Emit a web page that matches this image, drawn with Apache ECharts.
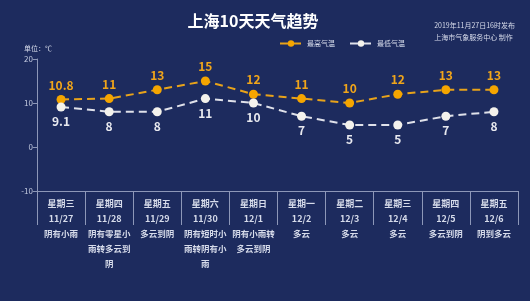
<!DOCTYPE html>
<html><head><meta charset="utf-8">
<script src="https://cdn.jsdelivr.net/npm/echarts@6/dist/echarts.min.js"></script>
<style>html,body{margin:0;padding:0;background:#1d2b5e;}#c{width:530px;height:301px;}</style>
</head><body><div id="c"></div>
<script>
var weekdays = ['星期三','星期四','星期五','星期六','星期日','星期一','星期二','星期三','星期四','星期五'];
var dates = ['11/27','11/28','11/29','11/30','12/1','12/2','12/3','12/4','12/5','12/6'];
var weather = ['阴有小雨','阴有零星小\n雨转多云到\n阴','多云到阴','阴有短时小\n雨转阴有小\n雨','阴有小雨转\n多云到阴','多云','多云','多云','多云到阴','阴到多云'];
var highTemps = [10.8, 11, 13, 15, 12, 11, 10, 12, 13, 13];
var lowTemps = [9.1, 8, 8, 11, 10, 7, 5, 5, 7, 8];
var yTicks = [-10, 0, 10, 20];

var font = '"Noto Sans CJK SC", "Noto Sans", sans-serif';
var chart = echarts.init(document.getElementById('c'));
chart.setOption({
  backgroundColor: '#1d2b5e',
  textStyle: {fontFamily: font},
  animation: false,
  title: [
    {text: '上海10天天气趋势', left: 248, top: 8, textAlign: 'center',
     textStyle: {color: '#ffffff', fontSize: 16, fontWeight: 'bold', fontFamily: font}},
    {text: '2019年11月27日16时发布\n上海市气象服务中心 制作', right: 10, top: 14,
     textStyle: {color: '#d6dbea', fontSize: 7, fontWeight: 'normal', lineHeight: 12, align: 'right', fontFamily: font}},
    {text: '单位：℃', left: 19, top: 40,
     textStyle: {color: '#d6dbea', fontSize: 7, fontWeight: 'normal', fontFamily: font}}
  ],
  legend: {
    left: 274, top: 35, itemWidth: 22, itemHeight: 8, itemGap: 14,
    textStyle: {color: '#d6dbea', fontSize: 7, fontFamily: font},
    data: ['最高气温','最低气温']
  },
  grid: {left: 37, right: 12, top: 59, bottom: 110},
  xAxis: {
    type: 'category', data: weekdays, boundaryGap: true,
    axisLine: {onZero: false, lineStyle: {color: '#8d97b8', width: 1}},
    axisTick: {show: true, length: 34, lineStyle: {color: '#8d97b8'}, interval: 0, inside: false},
    axisLabel: {
      interval: 0, margin: 5,
      formatter: function (v, i) {
        return '{a|' + weekdays[i] + '}\n{a|' + dates[i] + '}\n{b|' + weather[i].split('\n').join('}\n{b|') + '}';
      },
      rich: {
        a: {color: '#d6dbea', fontSize: 9, fontWeight: 'bold', lineHeight: 15, fontFamily: font},
        b: {color: '#d6dbea', fontSize: 8.5, fontWeight: 'bold', lineHeight: 15, fontFamily: font}
      }
    }
  },
  yAxis: {
    type: 'value', min: -10, max: 20, interval: 10,
    axisLine: {show: true, lineStyle: {color: '#8d97b8'}},
    axisTick: {show: true, length: 4, lineStyle: {color: '#8d97b8'}},
    splitLine: {show: false},
    axisLabel: {color: '#c4cbe0', fontSize: 8, margin: 4,
      formatter: function (v) { return yTicks.indexOf(v) >= 0 ? String(v) : ''; }}
  },
  series: [
    {name: '最高气温', type: 'line', data: highTemps, symbol: 'circle', symbolSize: 9,
     itemStyle: {color: '#f5a500'}, lineStyle: {color: '#e8a31a', type: [8, 5], width: 2},
     label: {show: true, position: 'top', distance: 4, color: '#f0a51a', fontSize: 12, fontWeight: 'bold', fontFamily: font}},
    {name: '最低气温', type: 'line', data: lowTemps, symbol: 'circle', symbolSize: 9,
     itemStyle: {color: '#f4f2ec'}, lineStyle: {color: '#dfe1ea', type: [8, 5], width: 2},
     label: {show: true, position: 'bottom', distance: 4, color: '#e8e9ef', fontSize: 12, fontWeight: 'bold', fontFamily: font}}
  ]
});
</script></body></html>
